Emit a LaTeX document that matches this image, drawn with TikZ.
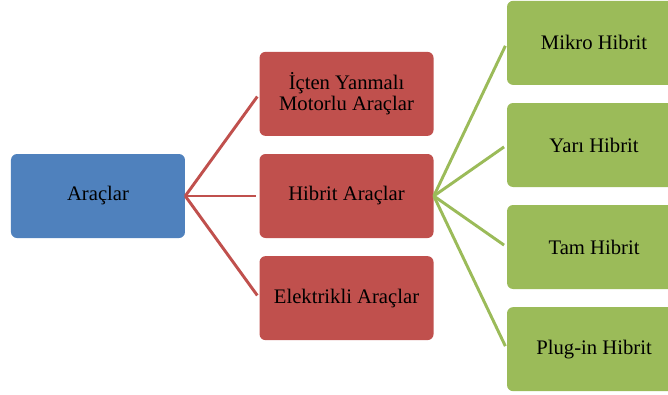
\documentclass[tikz,border=0pt]{standalone}
\usepackage{fontspec}
\setmainfont{Liberation Serif}
\usepackage{tikz}
\usetikzlibrary{positioning}

\definecolor{rootblue}{HTML}{4F81BD}
\definecolor{catred}{HTML}{C0504D}
\definecolor{subgreen}{HTML}{9BBB59}

\begin{document}
\begin{tikzpicture}[
    node distance=13.2pt and 55.5pt,
    every node/.style={font=\fontsize{15.5}{15.8}\selectfont, text=black},
    box/.style={rectangle, rounded corners=4.5pt, minimum width=130.5pt, minimum height=63pt, align=center, inner sep=2pt},
    root/.style={box, fill=rootblue},
    cat/.style={box, fill=catred},
    sub/.style={box, fill=subgreen},
    redlink/.style={catred, line width=2.2pt, shorten >=2.5pt},
    greenlink/.style={subgreen, line width=2.2pt, shorten >=2.5pt}
]

\useasboundingbox (-73.5pt,-148.5pt) rectangle (427.5pt,147pt);

\node[root] (arac) at (0,0) {Araçlar};

\node[cat, right=of arac] (hibrit) {Hibrit Araçlar};
\node[cat, above=of hibrit] (icten) {İçten Yanmalı\\Motorlu Araçlar};
\node[cat, below=of hibrit] (elektrik) {Elektrikli Araçlar};

\node[sub, right=54.75pt of hibrit, yshift=38.25pt] (yari) {Yarı Hibrit};
\node[sub, right=54.75pt of hibrit, yshift=-38.25pt] (tam) {Tam Hibrit};
\node[sub, above=of yari] (mikro) {Mikro Hibrit};
\node[sub, below=of tam] (plugin) {Plug-in Hibrit};

% red fan
\draw[redlink] (arac.east) -- (icten.west);
\draw[redlink] (arac.east) -- (hibrit.west);
\draw[redlink] (arac.east) -- (elektrik.west);

% green fan
\draw[greenlink] (hibrit.east) -- (mikro.west);
\draw[greenlink] (hibrit.east) -- (yari.west);
\draw[greenlink] (hibrit.east) -- (tam.west);
\draw[greenlink] (hibrit.east) -- (plugin.west);

\end{tikzpicture}
\end{document}
